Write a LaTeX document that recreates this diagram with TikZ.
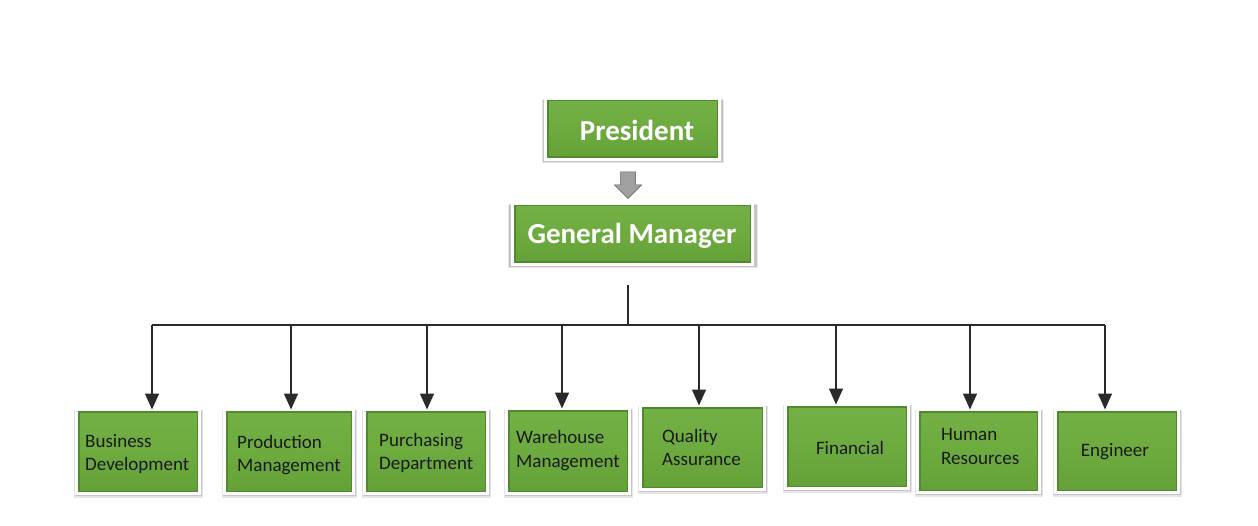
\documentclass[tikz,border=0pt]{standalone}
\usepackage{fontspec}
\setmainfont{Carlito}
\usetikzlibrary{arrows.meta,shadows}
\definecolor{boxgreen}{HTML}{6DAB3F}
\definecolor{boxgreenlight}{HTML}{74B045}
\definecolor{boxgreendark}{HTML}{64A037}
\definecolor{bevel}{HTML}{4F8A2C}
\definecolor{linegray}{HTML}{2A2A2A}
\definecolor{arrgray}{HTML}{A0A0A0}
\tikzset{
  box/.style={rectangle, draw=white, line width=2.6pt, inner sep=0pt, outer sep=0pt,
    top color=boxgreenlight, bottom color=boxgreendark, middle color=boxgreen,
    path picture={\draw[bevel, line width=6pt] (path picture bounding box.south west) rectangle (path picture bounding box.north east);},
    general shadow={shadow scale=1.045, shadow yshift=-2.5pt, shadow xshift=0.5pt, opacity=0.10, fill=black},
    general shadow={shadow scale=1.03, shadow yshift=-1.5pt, shadow xshift=0.5pt, opacity=0.14, fill=black},
    general shadow={shadow scale=1.015, shadow yshift=-0.8pt, opacity=0.18, fill=black}},
  lbl/.style={inner sep=0pt, font=\fontsize{19}{23.5}\selectfont, text=black!90, align=left},
  clbl/.style={inner sep=0pt, font=\fontsize{19}{23.5}\selectfont, text=black!90, align=center},
  toplbl/.style={inner sep=0pt, font=\fontsize{29}{32}\selectfont\bfseries, text=white},
  conn/.style={draw=linegray, line width=1.5pt},
  arr/.style={conn, -{Triangle[width=14pt,length=16pt]}},
}
\begin{document}
\begin{tikzpicture}[x=1pt,y=-1pt]
\useasboundingbox (0,0) rectangle (1258,526);
% top boxes
\node[box, minimum width=174pt, minimum height=61pt] (pres) at (632.5,129) {};
\node[toplbl] (prest) at (637,130) {President};
\node[box, minimum width=240pt, minimum height=61pt] (gm) at (632.5,234) {};
\node[toplbl] (gmt) at (632,236) {General Manager};
% grey block arrow
\coordinate (ga) at (620.5,172);
\fill[arrgray, draw=gray!70!black, line width=0.5pt]
  (ga) -- ++(15,0) -- ++(0,13) -- ++(6,0) -- ++(-13.5,13.5) -- ++(-13.5,-13.5)
  -- ++(6,0) -- cycle;
% bottom boxes
\node[box, minimum width=123pt, minimum height=84pt] (b1) at (138,451.5) {};
\node[box, minimum width=129pt, minimum height=84pt] (b2) at (289,451.5) {};
\node[box, minimum width=123pt, minimum height=84pt] (b3) at (426,451.5) {};
\node[box, minimum width=123pt, minimum height=85pt] (b4) at (568,451) {};
\node[box, minimum width=124pt, minimum height=84pt] (b5) at (702.5,447.5) {};
\node[box, minimum width=123pt, minimum height=84pt] (b6) at (847,446.5) {};
\node[box, minimum width=122pt, minimum height=83pt] (b7) at (978.5,451) {};
\node[box, minimum width=123pt, minimum height=83pt] (b8) at (1117,451) {};
% labels
\node[lbl, anchor=west] (t1) at (85,454) {Business\\Development};
\node[lbl, anchor=west] (t2) at (237,455) {Production\\Management};
\node[lbl, anchor=west] (t3) at (379,453) {Purchasing\\Department};
\node[lbl, anchor=west] (t4) at (516,450.5) {Warehouse\\Management};
\node[lbl, anchor=west] (t5) at (662,447.5) {Quality\\Assurance};
\node[clbl] (t6) at (850,448) {Financial};
\node[lbl, anchor=west] (t7) at (941,446.5) {Human\\Resources};
\node[clbl] (t8) at (1115,452) {Engineer};
% connectors
\coordinate (j0) at (628,285);
\coordinate (j1) at (628,325);
\coordinate (a1) at (152,325);
\coordinate (a2) at (291,325);
\coordinate (a3) at (427,325);
\coordinate (a4) at (562,325);
\coordinate (a5) at (699,325);
\coordinate (a6) at (836,325);
\coordinate (a7) at (970,325);
\coordinate (a8) at (1105,325);
\draw[conn] (j0) -- (j1);
\draw[conn] (a1) -- (a8);
\draw[arr] (a1) -- (a1 |- b1.north);
\draw[arr] (a2) -- (a2 |- b2.north);
\draw[arr] (a3) -- (a3 |- b3.north);
\draw[arr] (a4) -- (a4 |- b4.north);
\draw[arr] (a5) -- (a5 |- b5.north);
\draw[arr] (a6) -- (a6 |- b6.north);
\draw[arr] (a7) -- (a7 |- b7.north);
\draw[arr] (a8) -- (a8 |- b8.north);
\end{tikzpicture}
\end{document}
